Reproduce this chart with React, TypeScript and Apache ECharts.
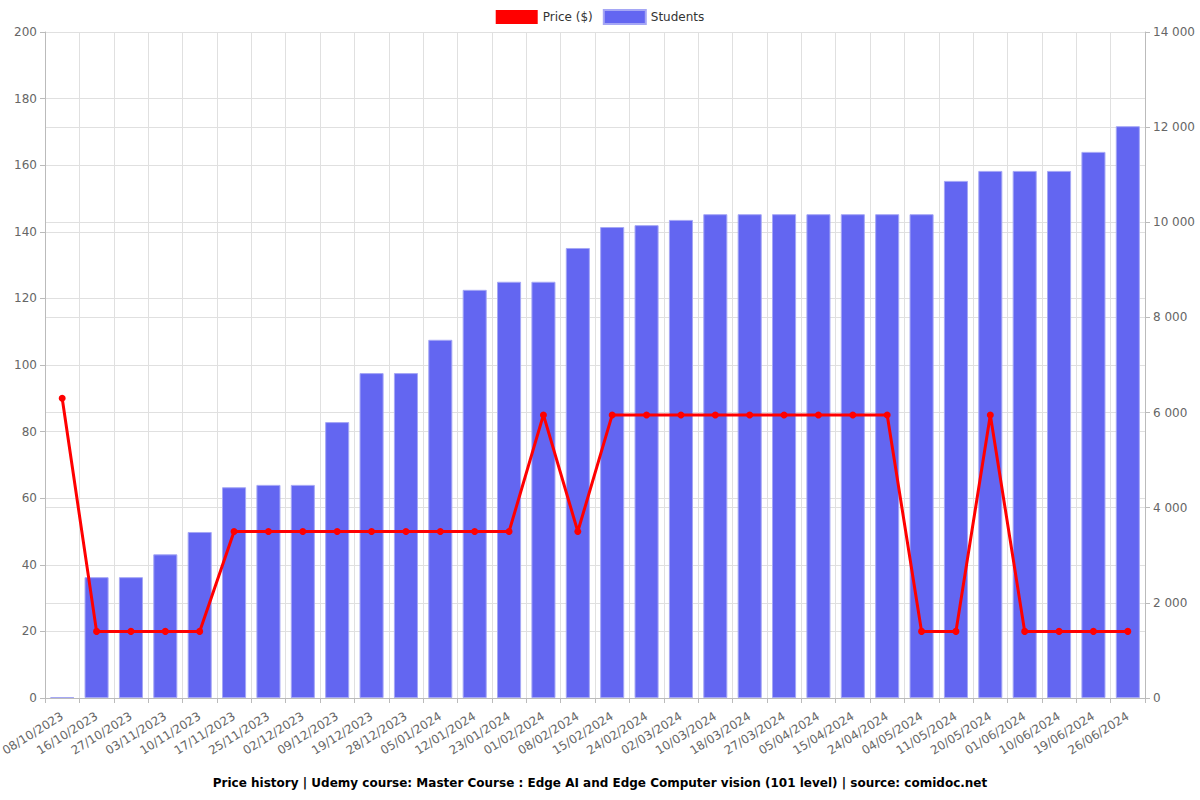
import React, { useEffect, useRef } from "react";
import * as echarts from "echarts";

const categories = [
  "08/10/2023", "16/10/2023", "27/10/2023", "03/11/2023", "10/11/2023", "17/11/2023",
  "25/11/2023", "02/12/2023", "09/12/2023", "19/12/2023", "28/12/2023", "05/01/2024",
  "12/01/2024", "23/01/2024", "01/02/2024", "08/02/2024", "15/02/2024", "24/02/2024",
  "02/03/2024", "10/03/2024", "18/03/2024", "27/03/2024", "05/04/2024", "15/04/2024",
  "24/04/2024", "04/05/2024", "11/05/2024", "20/05/2024", "01/06/2024", "10/06/2024",
  "19/06/2024", "26/06/2024",
];

const price = [
  90, 20, 20, 20, 20, 50, 50, 50, 50, 50, 50, 50, 50, 50, 85, 50,
  85, 85, 85, 85, 85, 85, 85, 85, 85, 20, 20, 85, 20, 20, 20, 20,
];

const students = [
  20, 2540, 2540, 3020, 3490, 4430, 4480, 4480, 5800, 6830, 6830, 7530,
  8580, 8750, 8750, 9460, 9900, 9940, 10050, 10170, 10170, 10170, 10170, 10170,
  10170, 10170, 10870, 11080, 11080, 11080, 11480, 12020,
];

const titleText =
  "Price history | Udemy course: Master Course : Edge AI and Edge Computer vision (101 level) | source: comidoc.net";

export default function App() {
  const ref = useRef<HTMLDivElement>(null);
  useEffect(() => {
    if (!ref.current) return;
    const chart = echarts.init(ref.current, null, { renderer: "svg" });
    const font = "DejaVu Sans";
    chart.setOption({
      animation: false,
      textStyle: { fontFamily: font },
      title: {
        text: titleText,
        left: "center",
        top: 772,
        textStyle: { fontSize: 12, fontWeight: "bold", color: "#000", fontFamily: font },
      },
      legend: {
        top: 4,
        left: "center",
        itemWidth: 42,
        itemHeight: 14,
        itemGap: 10,
        textStyle: { fontSize: 12, color: "#333", fontFamily: font },
        data: [
          { name: "Price ($)", icon: "rect", itemStyle: { color: "#ff0000" } },
          { name: "Students", icon: "rect", itemStyle: { color: "#6366f1" } },
        ],
      },
      grid: { left: 45, right: 55, top: 32, bottom: 102, outerBoundsMode: "none", containLabel: false },
      xAxis: {
        type: "category",
        data: categories,
        boundaryGap: true,
        axisLine: { lineStyle: { color: "#bbb" } },
        axisTick: { show: true, alignWithLabel: false, lineStyle: { color: "#bbb" } },
        splitLine: { show: true, lineStyle: { color: "#e0e0e0" } },
        axisLabel: {
          rotate: 32,
          interval: 0,
          color: "#666",
          fontSize: 12,
          fontFamily: font,
          margin: 17,
        },
      },
      yAxis: [
        {
          type: "value",
          min: 0,
          max: 200,
          interval: 20,
          axisLine: { show: true, lineStyle: { color: "#bbb" } },
          axisTick: { show: true, lineStyle: { color: "#bbb" } },
          splitLine: { show: true, lineStyle: { color: "#e0e0e0" } },
          axisLabel: { color: "#666", fontSize: 12, fontFamily: font },
        },
        {
          type: "value",
          min: 0,
          max: 14000,
          interval: 2000,
          axisLine: { show: true, lineStyle: { color: "#bbb" } },
          axisTick: { show: true, lineStyle: { color: "#bbb" } },
          splitLine: { show: true, lineStyle: { color: "#e0e0e0" } },
          axisLabel: {
            color: "#666",
            fontSize: 12,
            fontFamily: font,
            formatter: (v: number) => (v >= 1000 ? String(v).replace(/(\d)(?=(\d{3})+$)/g, "$1 ") : String(v)),
          },
        },
      ],
      series: [
        {
          name: "Students",
          type: "bar",
          yAxisIndex: 1,
          data: students,
          barWidth: "70%",
          itemStyle: { color: "#6366f1", borderColor: "#a5a7f5", borderWidth: 1 },
          z: 1,
        },
        {
          name: "Price ($)",
          type: "line",
          yAxisIndex: 0,
          data: price,
          symbol: "circle",
          symbolSize: 7,
          lineStyle: { color: "#ff0000", width: 3 },
          itemStyle: { color: "#ff0000" },
          z: 3,
        },
      ],
    });
    return () => chart.dispose();
  }, []);
  return (
    <div
      ref={ref}
      style={{ position: "absolute", left: 0, top: 0, width: 1200, height: 800 }}
    />
  );
}
